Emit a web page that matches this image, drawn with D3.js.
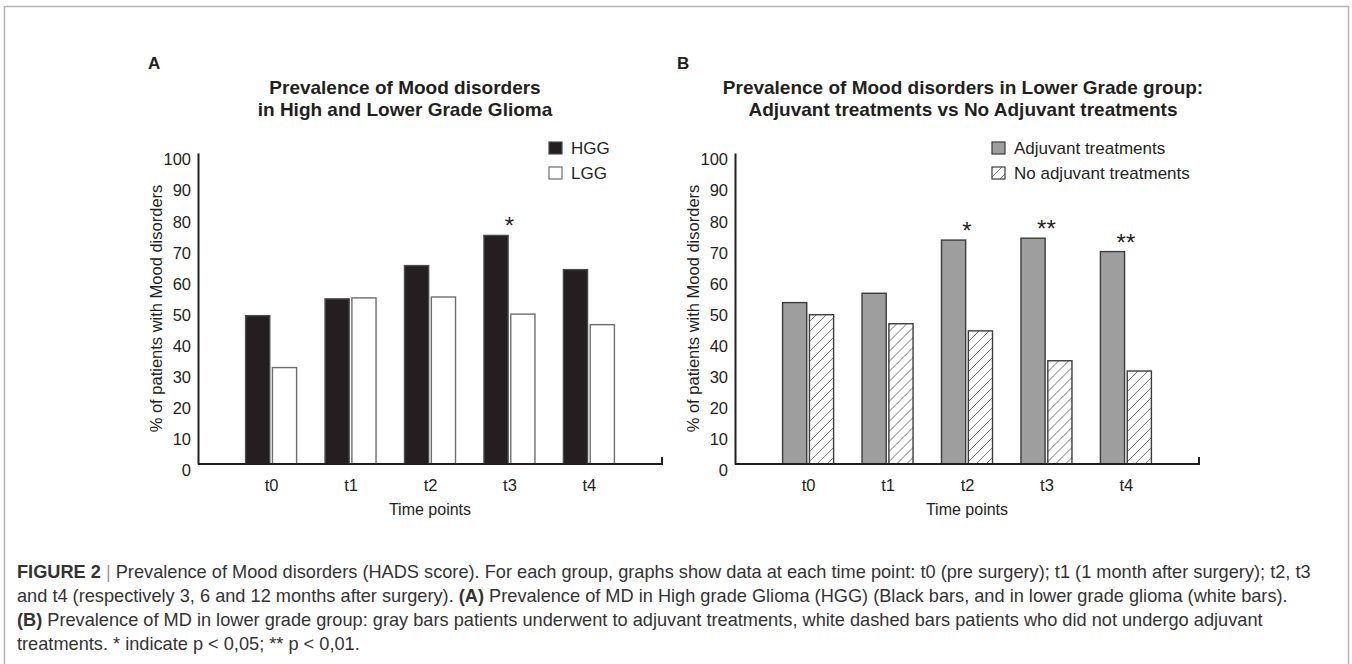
<!DOCTYPE html>
<html>
<head>
<meta charset="utf-8">
<script src="https://cdn.jsdelivr.net/npm/d3@7"></script>
<style>
  body { margin: 0; background: #fff; }
  text { font-family: "Liberation Sans", Arial, sans-serif; fill: #231f20; }
</style>
</head>
<body>
<div id="svg_area"></div>
<script>
// values (% of patients with mood disorders)
var timePoints = ["t0", "t1", "t2", "t3", "t4"];
var hggValues = [47.7, 53.1, 63.8, 73.5, 62.5];
var lggValues = [31.0, 53.4, 53.7, 48.2, 44.8];
var adjuvantValues = [51.9, 54.9, 72.0, 72.6, 68.3];
var noAdjuvantValues = [48.0, 45.1, 42.8, 33.2, 29.9];
var starsA = ["", "", "", "*", ""];
var starsB = ["", "", "*", "**", "**"];
var yTicks = [0, 10, 20, 30, 40, 50, 60, 70, 80, 90, 100];

var captionLines = [
  [["FIGURE 2", "bold"], [" | ", "sep"], ["Prevalence of Mood disorders (HADS score). For each group, graphs show data at each time point: t0 (pre surgery); t1 (1 month after surgery); t2, t3", ""]],
  [["and t4 (respectively 3, 6 and 12 months after surgery). ", ""], ["(A)", "bold"], [" Prevalence of MD in High grade Glioma (HGG) (Black bars, and in lower grade glioma (white bars).", ""]],
  [["(B)", "bold"], [" Prevalence of MD in lower grade group: gray bars patients underwent to adjuvant treatments, white dashed bars patients who did not undergo adjuvant", ""]],
  [["treatments. * indicate p < 0,05; ** p < 0,01.", ""]]
];

var svg = d3.select("#svg_area").append("svg")
    .attr("width", 1352).attr("height", 664);

// hatch for the "no adjuvant" bars
svg.append("defs").append("pattern")
    .attr("id", "hatch")
    .attr("patternUnits", "userSpaceOnUse")
    .attr("width", 10).attr("height", 10)
  .append("path")
    .attr("d", "M0,10L10,0M-2.5,2.5L2.5,-2.5M7.5,12.5L12.5,7.5")
    .attr("stroke", "#666")
    .attr("stroke-width", 0.9);

// figure frame
svg.append("rect")
    .attr("x", 4.5).attr("y", 6.5)
    .attr("width", 1344).attr("height", 700)
    .attr("fill", "none")
    .attr("stroke", "#b5b5b5")
    .attr("stroke-width", 1.5);

function drawPanel(p) {
    var width = 464, height = 311;
    var g = svg.append("g").attr("transform", "translate(" + p.left + "," + 153 + ")");

    var x0 = d3.scalePoint().domain(timePoints).range([0, width]).padding(0.92);
    var x1 = d3.scaleBand().domain([0, 1]).range([-25.5, 25.5]).paddingInner(0.1);
    var y = d3.scaleLinear().domain([0, 100]).range([height, 0]);

    // panel letter and title
    svg.append("text")
        .attr("x", p.letterX).attr("y", 63)
        .attr("dy", "0.35em")
        .style("font-weight", "bold").style("font-size", "17px")
        .text(p.letter);
    svg.append("text")
        .attr("text-anchor", "middle")
        .style("font-weight", "bold").style("font-size", "19px")
        .selectAll("tspan")
        .data(p.title)
        .enter().append("tspan")
        .attr("x", p.titleX)
        .attr("y", function(d, i) { return 87 + i * 22; })
        .attr("dy", "0.35em")
        .text(function(d) { return d; });

    // y axis
    var yAxis = g.append("g")
        .call(d3.axisLeft(y).tickValues(yTicks).tickSize(0).tickPadding(7));
    yAxis.select(".domain").attr("stroke", "#231f20").attr("stroke-width", 2);
    yAxis.selectAll(".tick text")
        .attr("dy", "0.72em")
        .style("font-size", "16.5px")
        .style("font-family", "Liberation Sans, Arial, sans-serif")
        .attr("fill", "#231f20");

    g.append("text")
        .attr("transform", "translate(-42," + height / 2 + ") rotate(-90)")
        .attr("text-anchor", "middle")
        .attr("dy", "0.35em")
        .style("font-size", "16.5px")
        .text("% of patients with Mood disorders");

    // bars
    var groups = g.selectAll(".grp")
        .data(timePoints)
        .enter().append("g")
        .attr("transform", function(d) { return "translate(" + x0(d) + ",0)"; });

    [0, 1].forEach(function(s) {
        groups.append("rect")
            .attr("x", x1(s))
            .attr("width", x1.bandwidth())
            .attr("y", function(d, i) { return y(p.series[s][i]); })
            .attr("height", function(d, i) { return height - y(p.series[s][i]); })
            .attr("fill", p.fills[s])
            .attr("stroke", p.strokes[s])
            .attr("stroke-width", 1.4);
    });

    // significance marks
    groups.append("text")
        .attr("text-anchor", "middle")
        .attr("y", function(d, i) { return y(Math.max(p.series[0][i], p.series[1][i])) - 1; })
        .style("font-size", "24px")
        .text(function(d, i) { return p.stars[i]; });

    // x axis
    var xAxis = g.append("g")
        .attr("transform", "translate(0," + height + ")")
        .call(d3.axisBottom(x0).tickSize(0).tickPadding(15));
    xAxis.select(".domain").remove();
    xAxis.selectAll(".tick text")
        .style("font-size", "16.5px")
        .style("font-family", "Liberation Sans, Arial, sans-serif")
        .attr("fill", "#231f20");
    g.append("path")
        .attr("d", "M0," + height + "H" + width + "V" + (height - 7))
        .attr("fill", "none")
        .attr("stroke", "#231f20")
        .attr("stroke-width", 2);

    g.append("text")
        .attr("x", width / 2).attr("y", height + 45)
        .attr("text-anchor", "middle")
        .attr("dy", "0.35em")
        .style("font-size", "16px")
        .text("Time points");

    // legend
    var leg = svg.append("g").attr("transform", "translate(" + p.legendX + ",142)");
    var row = leg.selectAll("g")
        .data(p.names)
        .enter().append("g")
        .attr("transform", function(d, i) { return "translate(0," + i * 25 + ")"; });
    row.append("rect")
        .attr("width", 13).attr("height", 12)
        .attr("fill", function(d, i) { return p.fills[i]; })
        .attr("stroke", function(d, i) { return p.strokes[i]; })
        .attr("stroke-width", 1.2);
    row.append("text")
        .attr("x", 22).attr("y", 6)
        .attr("dy", "0.35em")
        .style("font-size", "17px")
        .text(function(d) { return d; });
}

drawPanel({
    left: 198, letter: "A", letterX: 148, titleX: 405,
    title: ["Prevalence of Mood disorders", "in High and Lower Grade Glioma"],
    series: [hggValues, lggValues],
    names: ["HGG", "LGG"],
    fills: ["#231f20", "#ffffff"],
    strokes: ["#4a4a4a", "#6e6e6e"],
    stars: starsA,
    legendX: 549
});

drawPanel({
    left: 735, letter: "B", letterX: 677, titleX: 963,
    title: ["Prevalence of Mood disorders in Lower Grade group:", "Adjuvant treatments vs No Adjuvant treatments"],
    series: [adjuvantValues, noAdjuvantValues],
    names: ["Adjuvant treatments", "No adjuvant treatments"],
    fills: ["#9e9e9e", "url(#hatch)"],
    strokes: ["#3c3c3c", "#3c3c3c"],
    stars: starsB,
    legendX: 992
});

// caption
var cap = svg.append("g");
var capText = cap.selectAll("text")
    .data(captionLines)
    .enter().append("text")
    .attr("x", 17)
    .attr("y", function(d, i) { return 572 + i * 24; })
    .attr("dy", "0.35em")
    .style("font-size", "16px");
capText.selectAll("tspan")
    .data(function(d) { return d; })
    .enter().append("tspan")
    .style("font-weight", function(d) { return d[1] == "bold" ? "bold" : "normal"; })
    .attr("fill", function(d) { return d[1] == "sep" ? "#9a9a9a" : "#333333"; })
    .text(function(d) { return d[0]; });

// fit the caption to the width of its first line (x 17 -> 1312)
var w0 = capText.node().getComputedTextLength();
capText.style("font-size", (16 * 1295 / w0).toFixed(2) + "px");
</script>
</body>
</html>
